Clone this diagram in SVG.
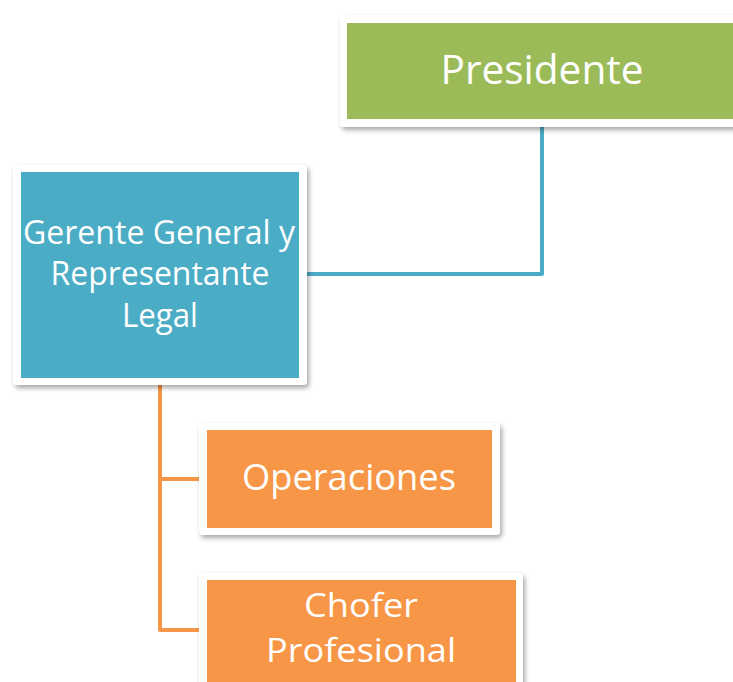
<svg xmlns="http://www.w3.org/2000/svg" width="733" height="682" viewBox="0 0 733 682">
<style>
.frame{fill:#ffffff;filter:url(#sh)}
.t{font-family:"Open Sans","Noto Sans",sans-serif;fill:#ffffff;text-anchor:middle}
.conn{fill:none;stroke-width:4;stroke-linejoin:round;stroke-linecap:round}
</style>
<defs>
<filter id="sh" x="-10%" y="-10%" width="130%" height="130%">
<feDropShadow dx="2" dy="3" stdDeviation="2.5" flood-color="#000" flood-opacity="0.35"/>
</filter>
</defs>
<rect width="733" height="682" fill="#ffffff"/>
<g id="connectors">
<path class="conn" stroke="#4BACC6" d="M542,125 V274 H305"/>
<path class="conn" stroke="#F79646" d="M160,383 V630 H201 M160,479 H201"/>
</g>
<g id="presidente">
<rect class="frame" x="340" y="15" width="400" height="112" rx="4"/>
<rect x="347" y="23" width="393" height="96" fill="#9BBB59"/>
<text class="t" x="542" y="84" font-size="41" textLength="203" lengthAdjust="spacingAndGlyphs">Presidente</text>
</g>
<g id="gerente">
<rect class="frame" x="13" y="165" width="294" height="220" rx="4"/>
<rect x="21" y="172" width="278" height="206" fill="#4BACC6"/>
<text class="t" x="159" y="244" font-size="32" textLength="272" lengthAdjust="spacingAndGlyphs">Gerente General y</text>
<text class="t" x="160" y="285" font-size="32" textLength="219" lengthAdjust="spacingAndGlyphs">Representante</text>
<text class="t" x="160" y="327" font-size="32" textLength="76" lengthAdjust="spacingAndGlyphs">Legal</text>
</g>
<g id="operaciones">
<rect class="frame" x="199" y="423" width="301" height="112" rx="4"/>
<rect x="207" y="430" width="285" height="98" fill="#F79646"/>
<text class="t" x="349" y="490" font-size="37" textLength="214" lengthAdjust="spacingAndGlyphs">Operaciones</text>
</g>
<g id="chofer">
<rect class="frame" x="199" y="573" width="324" height="120" rx="4"/>
<rect x="207" y="580" width="309" height="110" fill="#F79646"/>
<text class="t" x="361" y="617" font-size="33" textLength="114" lengthAdjust="spacingAndGlyphs">Chofer</text>
<text class="t" x="361" y="662" font-size="33" textLength="190" lengthAdjust="spacingAndGlyphs">Profesional</text>
</g>
</svg>
